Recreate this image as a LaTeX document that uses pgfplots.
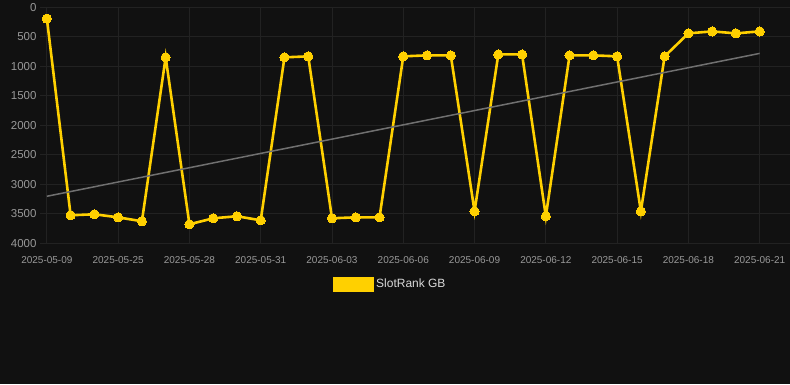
\documentclass[border=0pt]{standalone}
\usepackage{pgfplots}
\pgfplotsset{compat=1.18}
\usepackage{fontspec}
\setmainfont{Liberation Sans}
\definecolor{bg}{HTML}{111111}
\definecolor{gold}{HTML}{FFD000}
\definecolor{gridc}{HTML}{222222}
\definecolor{tickc}{HTML}{999999}
\definecolor{trend}{HTML}{707070}
\begin{document}
\begin{tikzpicture}[x=1pt,y=1pt]
\fill[bg] (0,0) rectangle (790,384);
\begin{axis}[
  at={(40pt,141pt)}, anchor=south west,
  scale only axis, width=750pt, height=236pt,
  xmin=-0.29, xmax=31.26, ymin=0, ymax=4000, y dir=reverse,
  axis line style={draw=none},
  major tick length=0pt,
  xtick={0,3,...,30},
  xticklabels={2025-05-09,2025-05-25,2025-05-28,2025-05-31,2025-06-03,2025-06-06,2025-06-09,2025-06-12,2025-06-15,2025-06-18,2025-06-21},
  ytick={0,500,...,4000},
  /pgf/number format/1000 sep={},
  /pgf/number format/assume math mode=true,
  x tick label style={font=\fontsize{10}{12}\selectfont, text=tickc, yshift=-10pt},
  y tick label style={font=\fontsize{11.5}{13}\selectfont, text=tickc},
  grid=major, major grid style={gridc, line width=0.8pt},
  clip=false,
  legend style={at={(0.467,-0.174)}, anchor=center, draw=none, fill=none,
    text=white!85!black, font=\fontsize{12}{14}\selectfont, legend columns=1},
  legend cell align=left,
]
\addplot[gold, line width=2.6pt, mark=*, mark size=4.6pt, mark options={fill=gold, draw=gold, line width=0pt},
  legend image code/.code={\fill[gold] (0pt,-6pt) rectangle (39pt,6pt);}]
coordinates {
(0,190) (1,3525) (2,3508) (3,3560) (4,3627) (5,847) (6,3678) (7,3576) (8,3542) (9,3610)
(10,847) (11,830) (12,3576) (13,3560) (14,3560) (15,830) (16,813) (17,813) (18,3458) (19,797)
(20,797) (21,3542) (22,813) (23,813) (24,830) (25,3458) (26,830) (27,440) (28,407) (29,440) (30,407)
};
\addlegendentry{SlotRank GB}
\addplot[trend, line width=1.5pt, forget plot] coordinates {(0,3203) (30,780)};
\end{axis}
\end{tikzpicture}
\end{document}
